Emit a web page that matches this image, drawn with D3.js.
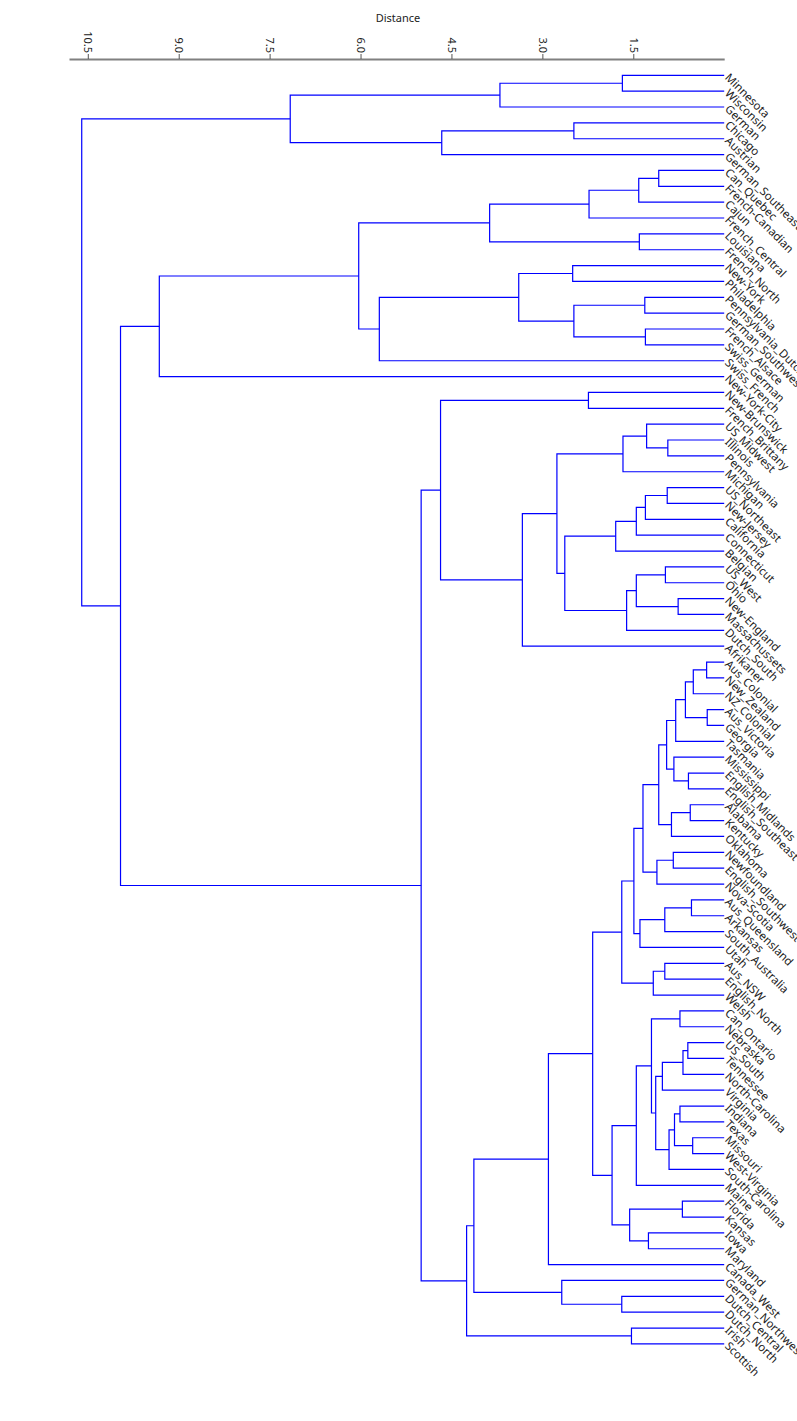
<!DOCTYPE html>
<html>
<head>
<meta charset="utf-8">
<script src="https://cdn.jsdelivr.net/npm/d3@7"></script>
<style>
  html, body { margin: 0; padding: 0; background: #fff; }
  svg { display: block; }
</style>
</head>
<body>
<svg id="chart" width="797" height="1421"></svg>
<script>
// Leaf labels, top to bottom
const leafNames = [
  "Minnesota","Wisconsin","German","Chicago","Austrian","German_Southeast",
  "Can_Quebec","French-Canadian","Cajun","French_Central","Louisiana","French_North",
  "New-York","Philadelphia","Pennsylvania_Dutch","German_Southwest","French_Alsace",
  "Swiss_German","Swiss_French","New-York-City","New-Brunswick","French_Brittany",
  "US_Midwest","Illinois","Pennsylvania","Michigan","US_Northeast","New-Jersey",
  "California","Connecticut","Belgian","US_West","Ohio","New-England","Massachussets",
  "Dutch_South","Afrikaner","Aus_Colonial","New_Zealand","NZ_Colonial","Aus_Victoria",
  "Georgia","Tasmania","Mississippi","English_Midlands","English_Southeast","Alabama",
  "Kentucky","Oklahoma","Newfoundland","English_Southwest","Nova-Scotia","Aus_Queensland",
  "Arkansas","South_Australia","Utah","Aus_NSW","English_North","Welsh","Can_Ontario",
  "Nebraska","US_South","Tennessee","North-Carolina","Virginia","Indiana","Texas",
  "Missouri","West-Virginia","South-Carolina","Maine","Florida","Kansas","Iowa",
  "Maryland","Canada_West","German_Northwest","Dutch_Central","Dutch_North","Irish","Scottish"
];

// Merges: [id, upper child, lower child, distance]
const merges = [
  ["Root","A5","X",10.60],
  ["A5","A2","A4",7.16],
  ["A2","A1","German",3.70],
  ["A1","Minnesota","Wisconsin",1.68],
  ["A4","A3","German_Southeast",4.66],
  ["A3","Chicago","Austrian",2.48],
  ["X","B13","C",9.96],
  ["B13","B12","New-York-City",9.32],
  ["B12","B5","B11",6.03],
  ["B5","B3","B4",3.87],
  ["B3","B2","French_Central",2.23],
  ["B2","B1","Cajun",1.41],
  ["B1","Can_Quebec","French-Canadian",1.08],
  ["B4","Louisiana","French_North",1.40],
  ["B11","B10","Swiss_French",5.69],
  ["B10","B6","B9",3.39],
  ["B6","New-York","Philadelphia",2.50],
  ["B9","B7","B8",2.48],
  ["B7","Pennsylvania_Dutch","German_Southwest",1.31],
  ["B8","French_Alsace","Swiss_German",1.30],
  ["C","C16","F3",5.00],
  ["C16","C1","C15",4.68],
  ["C1","New-Brunswick","French_Brittany",2.24],
  ["C15","C14","Afrikaner",3.33],
  ["C14","C4","C13",2.76],
  ["C4","C3","Michigan",1.67],
  ["C3","US_Midwest","C2",1.28],
  ["C2","Illinois","Pennsylvania",0.93],
  ["C13","C8","C12",2.63],
  ["C8","C7","Belgian",1.79],
  ["C7","C6","Connecticut",1.45],
  ["C6","C5","California",1.30],
  ["C5","US_Northeast","New-Jersey",0.94],
  ["C12","C11","Dutch_South",1.61],
  ["C11","C9","C10",1.45],
  ["C9","US_West","Ohio",0.97],
  ["C10","New-England","Massachussets",0.76],
  ["F3","F2","G3",4.25],
  ["F2","F1","G2",4.13],
  ["F1","D22","Canada_West",2.90],
  ["D22","D21","E15",2.17],
  ["D21","D18","D20",1.69],
  ["D18","D14","D17",1.49],
  ["D14","D11","D13",1.34],
  ["D11","D8","D10",1.08],
  ["D8","D5","D7",0.95],
  ["D5","D4","Tasmania",0.80],
  ["D4","D2","D3",0.64],
  ["D2","D1","NZ_Colonial",0.51],
  ["D1","Aus_Colonial","New_Zealand",0.29],
  ["D3","Aus_Victoria","Georgia",0.28],
  ["D7","Mississippi","D6",0.83],
  ["D6","English_Midlands","English_Southeast",0.59],
  ["D10","D9","Oklahoma",0.87],
  ["D9","Alabama","Kentucky",0.56],
  ["D13","D12","Nova-Scotia",1.11],
  ["D12","Newfoundland","English_Southwest",0.84],
  ["D17","D16","Utah",1.39],
  ["D16","D15","South_Australia",0.98],
  ["D15","Aus_Queensland","Arkansas",0.54],
  ["D20","D19","Welsh",1.17],
  ["D19","Aus_NSW","English_North",0.98],
  ["E15","E11","E14",1.85],
  ["E11","E10","Maine",1.45],
  ["E10","E1","E9",1.20],
  ["E1","Can_Ontario","Nebraska",0.73],
  ["E9","E4","E8",1.13],
  ["E4","E3","Virginia",1.02],
  ["E3","E2","North-Carolina",0.68],
  ["E2","US_South","Tennessee",0.60],
  ["E8","E7","South-Carolina",0.91],
  ["E7","E5","E6",0.82],
  ["E5","Indiana","Texas",0.73],
  ["E6","Missouri","West-Virginia",0.52],
  ["E14","E12","E13",1.56],
  ["E12","Florida","Kansas",0.69],
  ["E13","Iowa","Maryland",1.25],
  ["G2","German_Northwest","G1",2.68],
  ["G1","Dutch_Central","Dutch_North",1.69],
  ["G3","Irish","Scottish",1.53]
];

const tickValues = [10.5, 9.0, 7.5, 6.0, 4.5, 3.0, 1.5];
const axisTitle = "Distance";

// ---- build tree ----
const mergeMap = new Map(merges.map(m => [m[0], m]));
function build(id) {
  const m = mergeMap.get(id);
  if (!m) return { name: id, dist: 0 };
  return { name: id, dist: m[3], children: [build(m[1]), build(m[2])] };
}
const root = d3.hierarchy(build("Root"));

const svg = d3.select("#chart");
const font = "'Noto Sans', 'Open Sans', sans-serif";

const x = d3.scaleLinear().domain([0, 10.81]).range([724.2, 69]);
const y = d3.scalePoint().domain(leafNames).range([75.3, 1343.9]);

root.eachAfter(n => {
  if (!n.children) n.py = y(n.data.name);
  else n.py = d3.mean(n.children, c => c.py);
  n.px = x(n.data.dist);
});

// ---- axis ----
const axis = d3.axisTop(x)
  .tickValues(tickValues)
  .tickFormat(d3.format(".1f"))
  .tickSize(5)
  .tickSizeOuter(0);

const gAxis = svg.append("g").attr("transform", "translate(0,59)").call(axis);
gAxis.select(".domain").attr("stroke", "#808080").attr("stroke-width", 2);
gAxis.selectAll(".tick line").attr("stroke", "#555").attr("stroke-width", 1);
gAxis.selectAll(".tick text")
  .attr("font-family", font)
  .attr("font-size", 11)
  .attr("fill", "#222")
  .attr("text-anchor", "end")
  .attr("transform", "translate(0,-6) rotate(90)")
  .attr("x", 0)
  .attr("y", 0)
  .attr("dy", "0.35em");

svg.append("text")
  .attr("x", 398).attr("y", 22)
  .attr("text-anchor", "middle")
  .attr("font-family", font)
  .attr("font-size", 11)
  .attr("fill", "#222")
  .text(axisTitle);

// ---- links ----
const internal = root.descendants().filter(n => n.children);
svg.append("g")
  .selectAll("path")
  .data(internal)
  .join("path")
  .attr("fill", "none")
  .attr("stroke", "#0000ff")
  .attr("stroke-width", 1.2)
  .attr("d", n => {
    const [a, b] = n.children;
    return `M${a.px},${a.py}H${n.px}V${b.py}H${b.px}`;
  });

// ---- leaf labels ----
svg.append("g")
  .selectAll("text")
  .data(root.leaves())
  .join("text")
  .attr("transform", d => `translate(${d.px + 3},${d.py}) rotate(45)`)
  .attr("dy", "0.35em")
  .attr("font-family", font)
  .attr("font-size", 11.5)
  .attr("fill", "#222")
  .text(d => d.data.name);
</script>
</body>
</html>
